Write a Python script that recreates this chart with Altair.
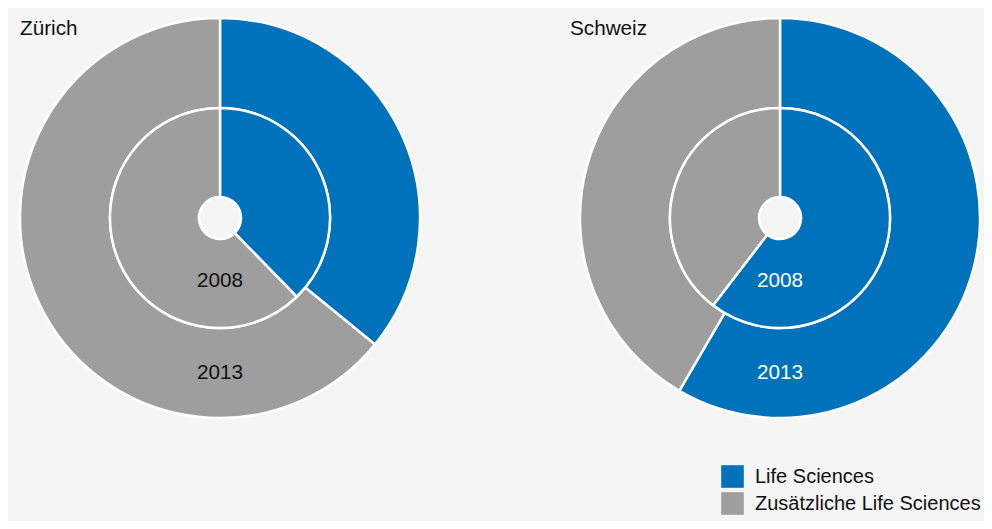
import math
import altair as alt
import pandas as pd

regions = ["Zürich", "Schweiz"]
years = ["2008", "2013"]
categories = ["Life Sciences", "Zusätzliche Life Sciences"]
ls_2008 = [37.7, 60.4]   # share Life Sciences in %
ls_2013 = [35.9, 58.4]
colors = ["#0072bc", "#9d9e9d"]

rows = []
for i, reg in enumerate(regions):
    for yr, vals in (("2008", ls_2008), ("2013", ls_2013)):
        v = vals[i]
        rows.append({"region": reg, "year": yr, "category": categories[0], "start": 0, "end": v})
        rows.append({"region": reg, "year": yr, "category": categories[1], "start": v, "end": 100})
df = pd.DataFrame(rows)
labels = pd.DataFrame([{"region": r, "year": y} for r in regions for y in years])

FONT = "Liberation Sans"
FS = 20.7
xenc = alt.X("region:N", scale=alt.Scale(type="point", domain=regions, range=[212, 772], padding=0), axis=None)
theta = alt.Theta("start:Q", scale=alt.Scale(domain=[0, 100], range=[0, 2 * math.pi]))
color = alt.Color(
    "category:N",
    scale=alt.Scale(domain=categories, range=colors),
    legend=alt.Legend(
        title=None, orient="none", legendX=713, legendY=457,
        symbolType="square", symbolSize=510, symbolStrokeWidth=0, symbolOpacity=1,
        labelFont=FONT, labelFontSize=20, labelColor="#111111", labelOffset=11,
        rowPadding=4, labelLimit=400,
    ),
)

outer = alt.Chart(df).transform_filter(alt.datum.year == "2013").mark_arc(
    radius=200, radius2=110, stroke="white", strokeWidth=2.5
).encode(x=xenc, y=alt.value(210), theta=theta, theta2="end:Q", color=color)

inner = alt.Chart(df).transform_filter(alt.datum.year == "2008").mark_arc(
    radius=110, radius2=21, stroke="white", strokeWidth=2.5
).encode(x=xenc, y=alt.value(210), theta=theta, theta2="end:Q",
         color=alt.Color("category:N", scale=alt.Scale(domain=categories, range=colors), legend=None))

txtcolor = alt.condition(alt.datum.region == "Zürich", alt.value("#111111"), alt.value("white"))
lab08 = alt.Chart(labels).transform_filter(alt.datum.year == "2008").mark_text(
    font=FONT, fontSize=FS, dy=63, baseline="middle", align="center"
).encode(x=xenc, y=alt.value(210), text="year:N", color=txtcolor)
lab13 = alt.Chart(labels).transform_filter(alt.datum.year == "2013").mark_text(
    font=FONT, fontSize=FS, dy=155, baseline="middle", align="center"
).encode(x=xenc, y=alt.value(210), text="year:N", color=txtcolor)

titles = pd.DataFrame({"region": regions})
t1 = alt.Chart(titles).transform_filter(alt.datum.region == "Zürich").mark_text(
    font=FONT, fontSize=FS, align="left", baseline="middle", color="#111111"
).encode(x=alt.value(12), y=alt.value(21), text="region:N")
t2 = alt.Chart(titles).transform_filter(alt.datum.region == "Schweiz").mark_text(
    font=FONT, fontSize=FS, align="left", baseline="middle", color="#111111"
).encode(x=alt.value(562), y=alt.value(21), text="region:N")

chart = alt.layer(outer, inner, lab08, lab13, t1, t2).properties(
    width=976, height=513, autosize="none", padding=0, background="#f5f5f5"
).configure_view(strokeWidth=0)

chart.save("out.html", embed_options={"renderer": "svg", "actions": False})
